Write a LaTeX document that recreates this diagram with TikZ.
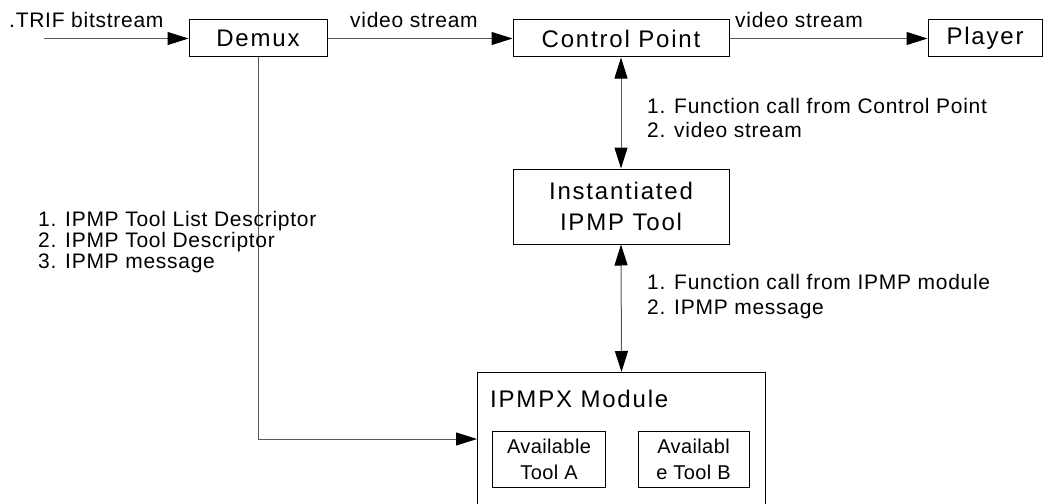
\documentclass[tikz,border=0pt]{standalone}
\usepackage{fontspec}
\usetikzlibrary{arrows.meta}
\newfontfamily\boxface[LetterSpace=7.5]{Liberation Sans}
\newfontfamily\lblface[LetterSpace=3.5]{Liberation Sans}
\newfontfamily\toolface[LetterSpace=2]{Liberation Sans}
\tikzset{
  blk/.style={draw=black, line width=1pt, inner sep=0pt, align=center,
    font=\boxface\fontsize{24}{31}\selectfont},
  toolbox/.style={draw=black, line width=1pt, inner sep=0pt, align=center,
    minimum height=56pt, font=\toolface\fontsize{20}{26}\selectfont},
  lbl/.style={inner sep=0pt, anchor=base west,
    font=\lblface\fontsize{21}{23}\selectfont},
  tip/.style={Triangle[length=21pt,width=13pt,color=black]},
  conn/.style={draw=black!65, line width=1pt, -{Triangle[length=21pt,width=13pt,color=black]}},
  duplex/.style={draw=black!65, line width=1pt,
    {Triangle[length=21pt,width=13pt,color=black]}-{Triangle[length=21pt,width=13pt,color=black]}}
}
\begin{document}
\begin{tikzpicture}[x=1pt,y=-1pt]
\useasboundingbox[fill=white] (0,0) rectangle (1043,503);

% processing blocks
\node[blk, minimum width=138pt, minimum height=37pt] (demux) at (258,38.5) {Demux};
\node[blk, minimum width=216pt, minimum height=37pt] (cp) at (621,38.5) {Control Point};
\node[blk, minimum width=114pt, minimum height=37pt] (player) at (985,38.5) {Player};
\node[blk, minimum width=216pt, minimum height=75pt] (inst) at (621,206.5) {Instantiated\\IPMP Tool};

% IPMPX module with its tools
\node[draw=black, line width=1pt, inner sep=0pt, minimum width=288pt, minimum height=140pt,
  anchor=north west] (mod) at (477,372) {};
\node[inner sep=0pt, anchor=base west, font=\boxface\fontsize{24}{31}\selectfont]
  (modtitle) at (490,407) {IPMPX Module};
\node[toolbox, minimum width=113pt] (toola) at (549,459) {Available\\Tool A};
\node[toolbox, minimum width=111pt] (toolb) at (693.5,459) {Availabl\\e Tool B};

% connectors
\coordinate (src) at (44,38.5);
\coordinate (modin) at (477,439);
\draw[conn] (src) -- (demux.west);
\draw[conn] (demux.east) -- (cp.west);
\draw[conn] (cp.east) -- (player.west);
\draw[duplex] (cp.south) -- (inst.north);
\draw[duplex] (inst.south) -- (mod.north);
\draw[conn] (demux.south) |- (modin);

% connector labels
\node[lbl] (l1) at (9,28) {.TRIF bitstream};
\node[lbl] (l2) at (350,28) {video stream};
\node[lbl] (l3) at (735,28) {video stream};
\node[lbl] (l4) at (647,113) {1. Function call from Control Point};
\node[lbl] (l5) at (647,137) {2. video stream};
\node[lbl] (l6) at (647,289) {1. Function call from IPMP module};
\node[lbl] (l7) at (647,314) {2. IPMP message};
\node[lbl] (l8) at (38,226.5) {1. IPMP Tool List Descriptor};
\node[lbl] (l9) at (38,247) {2. IPMP Tool Descriptor};
\node[lbl] (l10) at (38,268) {3. IPMP message};
\end{tikzpicture}
\end{document}
